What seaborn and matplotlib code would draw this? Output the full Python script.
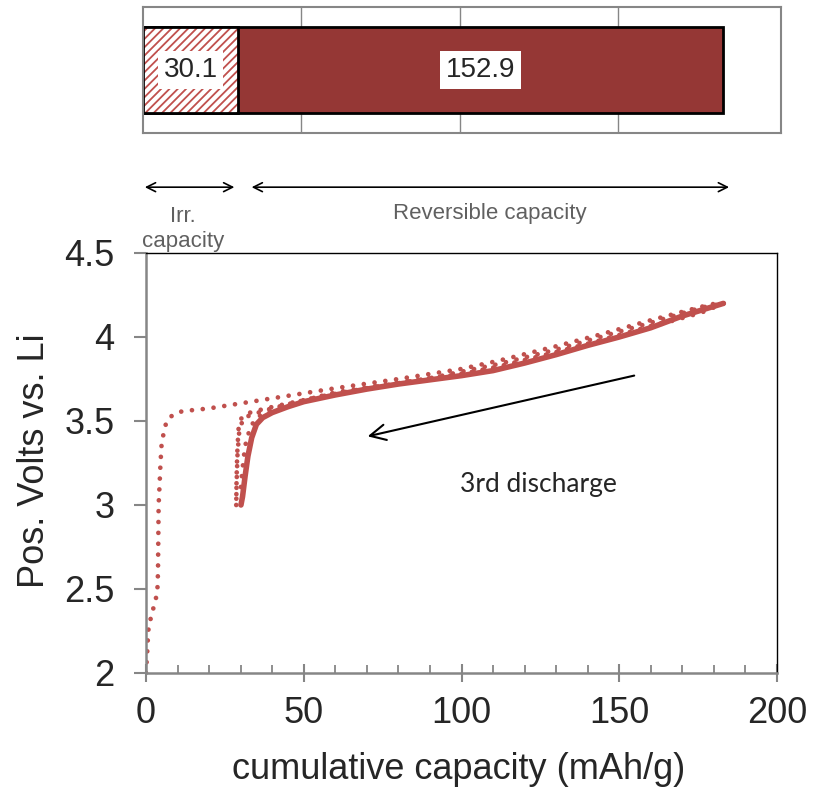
import matplotlib
matplotlib.use("Agg")
import matplotlib.pyplot as plt
import pandas as pd
import seaborn as sns

RED = "#C0504D"
DARK_RED = "#953735"
AXIS_GRAY = "#868686"
NOTE_GRAY = "#606060"

# Capacity split of the first cycle (mAh/g)
irr_capacity = 30.1
rev_capacity = 152.9

# 1st charge (dotted)
charge1_cap = [0, 0.4, 0.7, 1.3, 2.1, 3.0, 3.6, 3.8, 4.0, 4.3, 4.6, 5.0, 5.8, 6.5, 8.7,
               11.8, 15, 20, 25, 31.7, 45, 60, 80, 100, 112, 130, 144, 160, 176, 183]
charge1_v = [2.0, 2.13, 2.25, 2.31, 2.37, 2.43, 2.49, 2.6, 3.0, 3.12, 3.25, 3.38, 3.44, 3.5, 3.54,
             3.56, 3.565, 3.575, 3.59, 3.61, 3.65, 3.695, 3.75, 3.81, 3.86, 3.945, 4.015, 4.1, 4.18, 4.21]

# 1st discharge (dotted)
discharge1_cap = [183, 176, 160, 144, 130, 112, 100, 80, 60, 45, 38, 34, 31, 29.6, 29.0, 28.7, 28.6]
discharge1_v = [4.2, 4.15, 4.065, 3.98, 3.91, 3.825, 3.78, 3.73, 3.67, 3.6, 3.565, 3.54, 3.52,
                3.45, 3.3, 3.12, 3.0]

# 2nd charge (dotted)
charge2_cap = [28.6, 28.7, 28.9, 29.3, 30.3, 33, 38, 44, 55, 70, 90, 112, 130, 144, 160, 176, 183]
charge2_v = [3.0, 3.15, 3.3, 3.45, 3.52, 3.55, 3.575, 3.6, 3.645, 3.695, 3.755, 3.84, 3.925, 4.0,
             4.085, 4.175, 4.2]

# 2nd discharge (dotted)
discharge2_cap = [183, 176, 160, 144, 130, 112, 100, 80, 60, 45, 38, 35, 33, 31.4, 30.5, 29.8]
discharge2_v = [4.2, 4.145, 4.06, 3.975, 3.905, 3.82, 3.775, 3.725, 3.665, 3.595, 3.55, 3.52, 3.46,
                3.35, 3.2, 3.05]

# 3rd discharge (solid)
discharge3_cap = [183.0, 170, 160, 150, 140, 130, 120, 110, 100, 90, 80, 70, 60, 50, 45, 40, 37,
                  35, 33.5, 32.3, 31.4, 30.6, 30.1]
discharge3_v = [4.2, 4.125, 4.055, 4.0, 3.95, 3.895, 3.845, 3.80, 3.77, 3.745, 3.72, 3.69, 3.655,
                3.615, 3.585, 3.55, 3.52, 3.48, 3.40, 3.29, 3.17, 3.05, 3.0]

x_ticks = [0, 50, 100, 150, 200]
y_ticks = [2, 2.5, 3, 3.5, 4, 4.5]

sns.set_theme(style="white")
plt.rcParams["font.family"] = ["Liberation Sans", "DejaVu Sans"]
plt.rcParams["hatch.linewidth"] = 1.3

W, H = 817, 787
fig = plt.figure(figsize=(W / 100, H / 100), dpi=100)
fig.patch.set_facecolor("white")

# ---------------- main voltage profile ----------------
ax = fig.add_axes([146 / W, 1 - 673 / H, 631 / W, 420 / H])

dotted = dict(color=RED, lw=3.4, linestyle=(0, (0.001, 2.3)), dash_capstyle="round")
for cap, volt in [(charge1_cap, charge1_v), (discharge1_cap, discharge1_v),
                  (charge2_cap, charge2_v), (discharge2_cap, discharge2_v)]:
    df = pd.DataFrame({"cap": cap, "v": volt})
    sns.lineplot(data=df, x="cap", y="v", sort=False, estimator=None, ax=ax, **dotted)

df3 = pd.DataFrame({"cap": discharge3_cap, "v": discharge3_v})
sns.lineplot(data=df3, x="cap", y="v", sort=False, estimator=None, ax=ax,
             color=RED, lw=4.0, solid_capstyle="round", solid_joinstyle="round")

ax.set_xlim(0, 200)
ax.set_ylim(2, 4.5)
ax.set_xticks(x_ticks)
ax.set_xticklabels([str(t) for t in x_ticks])
ax.set_yticks(y_ticks)
ax.set_yticklabels([f"{t:g}" for t in y_ticks])
ax.xaxis.set_minor_locator(matplotlib.ticker.MultipleLocator(10))
ax.tick_params(axis="x", which="major", direction="inout", length=13, width=1.5,
               color=AXIS_GRAY, labelsize=26, pad=10, bottom=True)
ax.tick_params(axis="x", which="minor", direction="in", length=6, width=1.3,
               color=AXIS_GRAY, bottom=True)
ax.tick_params(axis="y", which="major", direction="out", length=8.6, width=1.5,
               color=AXIS_GRAY, labelsize=26, pad=14, left=True)
for side in ("left", "bottom"):
    ax.spines[side].set_color(AXIS_GRAY)
    ax.spines[side].set_linewidth(1.8)
for side in ("top", "right"):
    ax.spines[side].set_color("black")
    ax.spines[side].set_linewidth(1.0)
ax.set_xlabel("")
ax.set_ylabel("")
fig.text(459 / W, (H - 779) / H, "cumulative capacity (mAh/g)", ha="center",
         va="baseline", fontsize=26)
fig.text(35 / W, 1 - 461 / H, "Pos. Volts vs. Li", rotation=90, ha="center",
         va="center", fontsize=26)

ax.annotate("", xy=(69.4, 3.405), xytext=(155.6, 3.774),
            arrowprops=dict(arrowstyle="->", color="black", lw=1.5, mutation_scale=28))
ax.text(124.4, 3.12, "3rd discharge", ha="center", va="center", fontsize=19,
        family=["Lato", "DejaVu Sans"])

# ---------------- capacity split bar ----------------
axb = fig.add_axes([143 / W, 1 - 133 / H, 638 / W, 126 / H])
total = irr_capacity + rev_capacity
bar_row = [""]

sns.barplot(x=[total], y=bar_row, orient="h", width=0.675, color=DARK_RED,
            saturation=1, ax=axb)
n0 = len(axb.patches)
sns.barplot(x=[irr_capacity], y=bar_row, orient="h", width=0.675, color="white",
            saturation=1, ax=axb)
n1 = len(axb.patches)
sns.barplot(x=[irr_capacity], y=bar_row, orient="h", width=0.675, color="black",
            saturation=1, fill=False, ax=axb)

for p in axb.patches[:n0]:
    p.set_facecolor(DARK_RED)
    p.set_edgecolor("black")
    p.set_linewidth(2)
for p in axb.patches[n0:n1]:
    p.set_facecolor("white")
    p.set_edgecolor(RED)
    p.set_hatch("////")
    p.set_linewidth(0)
for p in axb.patches[n1:]:
    p.set_facecolor("none")
    p.set_edgecolor("black")
    p.set_linewidth(2)

axb.set_xlim(0, 201.3)
axb.set_ylim(0.5, -0.5)
axb.set_xticks([50, 100, 150])
axb.set_xticklabels([])
axb.set_yticks([])
axb.tick_params(length=0)
axb.set_xlabel("")
axb.set_ylabel("")
axb.grid(axis="x", color=AXIS_GRAY, lw=1)
axb.set_axisbelow(True)
for s in axb.spines.values():
    s.set_visible(True)
    s.set_color(AXIS_GRAY)
    s.set_linewidth(1.5)

label_box = dict(facecolor="white", edgecolor="none", boxstyle="square,pad=0.2")
axb.text(irr_capacity / 2, 0, f"{irr_capacity:.1f}", ha="center", va="center",
         fontsize=20, bbox=label_box)
axb.text(irr_capacity + rev_capacity / 2, 0, f"{rev_capacity:.1f}", ha="center",
         va="center", fontsize=20, bbox=label_box)

# capacity brackets under the bar
arrow_kw = dict(arrowstyle="<->", color="black", lw=1.2, mutation_scale=16)
axb.annotate("", xy=(29.7, -0.43), xytext=(-0.3, -0.43),
             xycoords=("data", "axes fraction"), textcoords=("data", "axes fraction"),
             arrowprops=arrow_kw, annotation_clip=False)
axb.annotate("", xy=(185.8, -0.43), xytext=(33.4, -0.43),
             xycoords=("data", "axes fraction"), textcoords=("data", "axes fraction"),
             arrowprops=arrow_kw, annotation_clip=False)
axb.text(12.6, -0.762, "Irr.\ncapacity", transform=axb.get_xaxis_transform(),
         ha="center", va="center", fontsize=16, color=NOTE_GRAY, linespacing=1.2,
         clip_on=False)
axb.text(109.5, -0.635, "Reversible capacity", transform=axb.get_xaxis_transform(),
         ha="center", va="center", fontsize=16, color=NOTE_GRAY, clip_on=False)

fig.savefig("out.png", dpi=100, facecolor="white")
